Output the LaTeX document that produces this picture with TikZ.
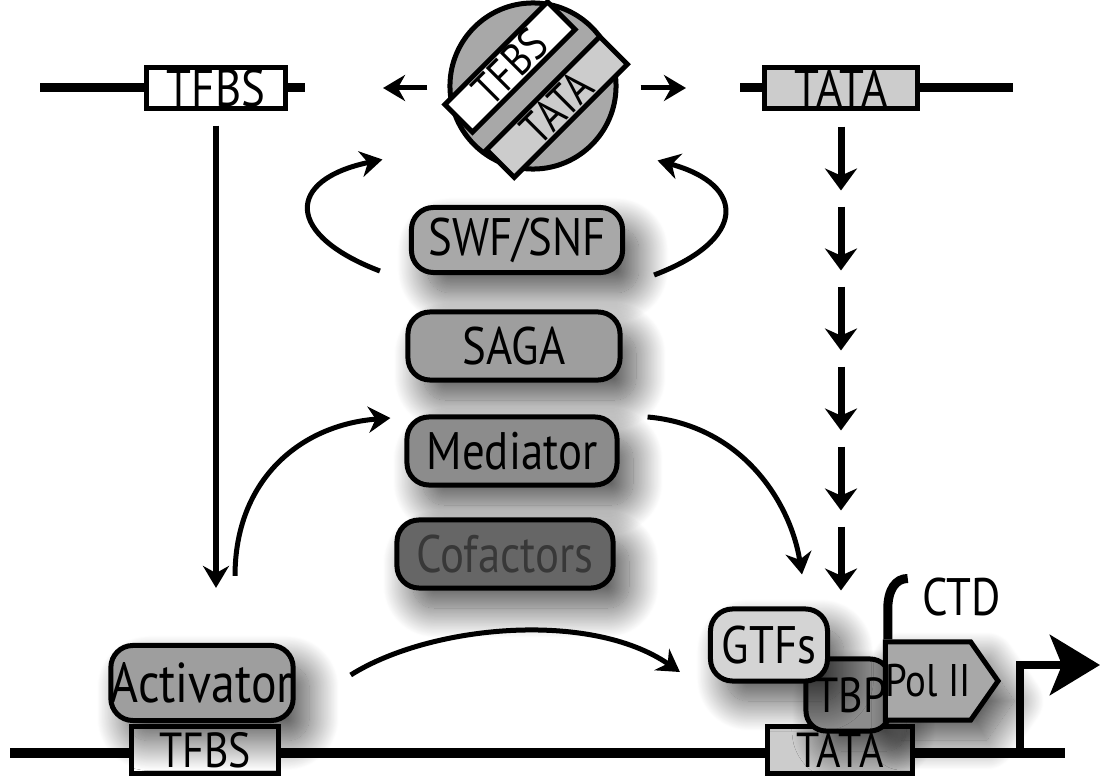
\documentclass[tikz,border=0pt]{standalone}
\usepackage{fontspec}
\setmainfont{PT Sans}[FakeStretch=0.85]
\usetikzlibrary{positioning,arrows.meta,shapes.symbols,shadows.blur}

\definecolor{circgray}{gray}{0.66}
\definecolor{tatagray}{gray}{0.80}
\definecolor{swfgray}{gray}{0.66}
\definecolor{sagagray}{gray}{0.62}
\definecolor{medgray}{gray}{0.55}
\definecolor{cofgray}{gray}{0.40}
\definecolor{coftext}{gray}{0.22}
\definecolor{actgray}{gray}{0.62}
\definecolor{gtfgray}{gray}{0.83}
\definecolor{tbpgray}{gray}{0.55}
\definecolor{polgray}{gray}{0.66}

\begin{document}
\begin{tikzpicture}[x=0.01cm, y=-0.01cm,
    lbl/.style={font=\fontsize{15}{17}\selectfont},
    shade/.style={blur shadow={shadow xshift=0.16cm, shadow yshift=-0.2cm, shadow blur radius=0.3cm, shadow blur steps=40, shadow opacity=70}},
    dnabox/.style={rectangle, draw, line width=0.05cm, inner sep=0pt, minimum height=0.40cm, lbl},
    factor/.style={rectangle, draw, line width=0.05cm, rounded corners=0.22cm, inner sep=0pt, minimum height=0.68cm, lbl, shade},
    dna/.style={line width=0.09cm},
    arr/.style={line width=0.05cm, -{Stealth[length=0.22cm, width=0.26cm]}},
    tick/.style={line width=0.07cm, -{Stealth[length=0.22cm, width=0.32cm]}},
    ctd/.style={line width=0.09cm}]
    \useasboundingbox (0,0) rectangle (1102,776);

    % Top DNA pieces
    \draw[dna] (40,88) -- (305,88) coordinate (dnaLend);
    \node[dnabox, fill=white, minimum width=1.38cm] (tfbsTop) at (216,88) {TFBS};
    \draw[dna] (740,88) coordinate (dnaRstart) -- (1013,88);
    \node[dnabox, fill=tatagray, minimum width=1.52cm] (tataTop) at (841,88) {TATA};

    % Nucleosome
    \node[circle, draw, line width=0.05cm, fill=circgray, minimum size=1.66cm] (nucl) at (533,86) {};
    \node[dnabox, fill=white, minimum width=1.45cm, minimum height=0.39cm, font=\fontsize{13}{15}\selectfont, rotate=45] (stripTFBS) at (510,67) {TFBS};
    \node[dnabox, fill=tatagray, minimum width=1.60cm, minimum height=0.39cm, font=\fontsize{13}{15}\selectfont, rotate=45] (stripTATA) at (557,107) {TATA};

    \draw[arr, shorten <=0.2cm, shorten >=0.78cm] (nucl.west |- dnaLend) -- (dnaLend);
    \draw[arr, shorten <=0.22cm, shorten >=0.54cm] (nucl.east |- dnaRstart) -- (dnaRstart);

    % Cofactor stack
    \node[factor, fill=swfgray, minimum width=2.11cm, minimum height=0.65cm] (swf) at (517,240) {SWF/SNF};
    \node[factor, fill=sagagray, minimum width=2.12cm] (saga) at (514,346) {SAGA};
    \node[factor, fill=medgray, minimum width=2.10cm] (med) at (512,451) {Mediator};
    \node[factor, fill=cofgray, text=coftext, minimum width=2.16cm] (cof) at (505,554) {Cofactors};

    \draw[arr] ([xshift=-0.29cm, yshift=0.04cm]swf.south west) .. controls (285,235) and (285,180) .. ([xshift=-0.90cm, yshift=-0.13cm]nucl.south west);
    \draw[arr] ([xshift=0.29cm]swf.south east) .. controls (747,240) and (747,185) .. ([xshift=0.64cm, yshift=-0.14cm]nucl.south east);

    % Bottom DNA
    \draw[dna] (10,753) -- (1065,753);
    \node[dnabox, fill=white, minimum width=1.46cm, minimum height=0.46cm, font=\fontsize{14}{16}\selectfont] (tfbsBot) at (205,750) {TFBS};
    \node[dnabox, fill=tatagray, minimum width=1.45cm, minimum height=0.46cm, font=\fontsize{14}{16}\selectfont] (tataBot) at (840,750) {TATA};
    \coordinate (tss) at (1020,753);
    \draw[line width=0.08cm, -{Stealth[length=0.5cm, width=0.6cm, inset=0.12cm]}] (tss) |- (1100,665);

    % Bound factors
    \node[factor, fill=actgray, minimum width=1.80cm, minimum height=0.75cm, font=\fontsize{16}{18}\selectfont] (actv) at (202,683) {Activator};
    \node[factor, fill=tbpgray, minimum width=0.84cm, minimum height=0.72cm, rounded corners=0.2cm, font=\fontsize{14}{16}\selectfont] (tbp) at (848,695) {\hspace{0.06cm}TBP};
    \node[factor, fill=gtfgray, minimum width=1.17cm, minimum height=0.72cm] (gtf) at (769,645) {GTFs};
    \node[signal, signal to=east, signal pointer angle=110, draw, line width=0.05cm, fill=polgray, minimum height=0.78cm, inner sep=0pt, font=\fontsize{13}{15}\selectfont, shade] (pol) at (928,681) {Pol II};
    \draw[ctd] (pol.north west) ++(5,0) -- ++(0,-30) .. controls +(0,-20) and +(-12,0) .. ++(20,-31);
    \node[lbl, anchor=west] (ctdlbl) at (910,597) {CTD};

    % Signalling arrows
    \draw[arr, shorten <=0.15cm, shorten >=0.55cm] (tfbsTop.south) -- (tfbsTop.south |- actv.north);
    \draw[arr] ([xshift=0.33cm, yshift=0.67cm]actv.north) .. controls (235,480) and (300,425) .. ([xshift=-0.14cm, yshift=0.33cm]med.west);
    \draw[arr] ([xshift=0.28cm, yshift=0.34cm]med.east) .. controls (740,425) and (790,500) .. ([xshift=0.33cm, yshift=0.32cm]gtf.north);
    \draw[arr] ([xshift=0.55cm, yshift=0.08cm]actv.east) .. controls (430,625) and (590,610) .. ([xshift=-0.28cm, yshift=-0.27cm]gtf.west);
    \foreach \k [evaluate=\k as \dy using 16+80*\k] in {0,...,5}
        \draw[tick] (tataTop.south) ++(0,\dy) -- ++(0,64);
\end{tikzpicture}
\end{document}
